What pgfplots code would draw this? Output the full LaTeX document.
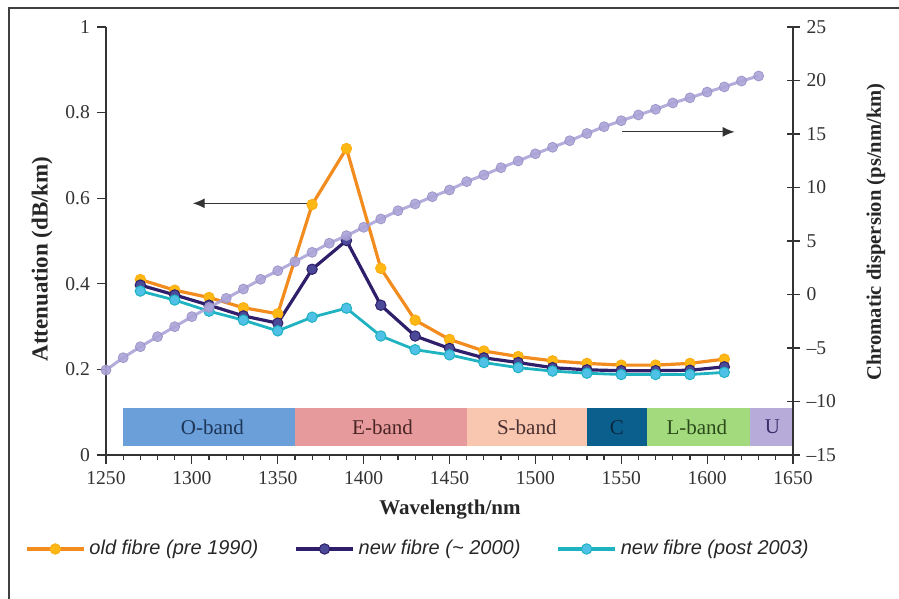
\documentclass[border=0pt]{standalone}
\usepackage{fontspec}
\setmainfont{Liberation Serif}
\newfontfamily\legfont{Liberation Sans}
\usepackage{pgfplots}
\pgfplotsset{compat=1.18}
\usetikzlibrary{arrows.meta}
\definecolor{cold}{HTML}{F28C1E}
\definecolor{coldm}{HTML}{FDB813}
\definecolor{cnew}{HTML}{2F1F6B}
\definecolor{cnewm}{HTML}{4B4A99}
\definecolor{cpost}{HTML}{1FB3C2}
\definecolor{cpostm}{HTML}{4FC1E6}
\definecolor{cdisp}{HTML}{ABA4D8}
\definecolor{cdispe}{HTML}{9A92C6}
\definecolor{bO}{HTML}{6A9FD9}
\definecolor{bE}{HTML}{E79A9C}
\definecolor{bS}{HTML}{F9C6B0}
\definecolor{bC}{HTML}{0B5F8C}
\definecolor{bL}{HTML}{A3DA7D}
\definecolor{bU}{HTML}{B7ACD9}
\definecolor{tO}{HTML}{1D3557}
\definecolor{tE}{HTML}{4A2525}
\definecolor{tS}{HTML}{4A3030}
\definecolor{tC}{HTML}{0A2740}
\definecolor{tL}{HTML}{2B4A1C}
\definecolor{tU}{HTML}{3B2F6B}
\definecolor{axc}{HTML}{333333}
\begin{document}
\begin{tikzpicture}
\useasboundingbox (0,0) rectangle (449.5pt,299.5pt);
\draw[line width=0.6pt, black!75] (4.5pt,0pt) -- (4.5pt,295.5pt) -- (449.5pt,295.5pt);
\begin{axis}[
  at={(53pt,72pt)}, anchor=south west, scale only axis,
  width=343.5pt, height=214pt,
  xmin=1250, xmax=1650, ymin=0, ymax=1,
  axis x line=bottom, axis y line=left,
  axis line style={-, axc, line width=0.75pt},
  every tick/.style={axc, line width=0.6pt},
  tick align=outside, major tick length=4.5pt, minor tick length=2.5pt,
  xtick={1250,1300,...,1650}, minor x tick num=4,
  ytick={0,0.2,...,1}, yticklabels={0,0.2,0.4,0.6,0.8,1},
  /pgf/number format/assume math mode=true,
  /pgf/number format/1000 sep={},
  tick label style={font=\fontsize{9.8}{11}\selectfont, text=axc},
  xlabel={\textbf{Wavelength/nm}},
  xlabel style={at={(axis description cs:0.5007,-0.1285)}, anchor=center, font=\fontsize{10.5}{12}\selectfont, text=black!85},
  ylabel={\textbf{Attenuation (dB/km)}},
  ylabel style={at={(axis description cs:-0.093,0.458)}, anchor=center, font=\fontsize{11.5}{13}\selectfont, text=black!85},
  legend columns=3,
  legend style={at={(axis description cs:-0.127,-0.2196)}, anchor=west, draw=none, fill=none,
    font=\legfont\itshape\fontsize{10}{12}\selectfont, text=black!85,
    /tikz/every even column/.append style={column sep=16pt}},
  legend cell align=left,
  legend image code/.code={\draw[line width=1.7pt, mark repeat=2,mark phase=2] plot coordinates {(0cm,0cm) (0.5cm,0cm) (1cm,0cm)};},
  clip=false,
]
% bands
\addplot[fill=bO, draw=none, forget plot] coordinates {(1260,0.02) (1360,0.02) (1360,0.11) (1260,0.11)} -- cycle;
\addplot[fill=bE, draw=none, forget plot] coordinates {(1360,0.02) (1460,0.02) (1460,0.11) (1360,0.11)} -- cycle;
\addplot[fill=bS, draw=none, forget plot] coordinates {(1460,0.02) (1530,0.02) (1530,0.11) (1460,0.11)} -- cycle;
\addplot[fill=bC, draw=none, forget plot] coordinates {(1530,0.02) (1565,0.02) (1565,0.11) (1530,0.11)} -- cycle;
\addplot[fill=bL, draw=none, forget plot] coordinates {(1565,0.02) (1625,0.02) (1625,0.11) (1565,0.11)} -- cycle;
\addplot[fill=bU, draw=none, forget plot] coordinates {(1625,0.02) (1650,0.02) (1650,0.11) (1625,0.11)} -- cycle;
\node[font=\fontsize{10.5}{12}\selectfont, text=tO] at (axis cs:1312,0.065) {O-band};
\node[font=\fontsize{10.5}{12}\selectfont, text=tE] at (axis cs:1411,0.065) {E-band};
\node[font=\fontsize{10.5}{12}\selectfont, text=tS] at (axis cs:1495,0.065) {S-band};
\node[font=\fontsize{10.5}{12}\selectfont, text=tC] at (axis cs:1547.5,0.065) {C};
\node[font=\fontsize{10.5}{12}\selectfont, text=tL] at (axis cs:1594,0.065) {L-band};
\node[font=\fontsize{10.5}{12}\selectfont, text=tU] at (axis cs:1638,0.065) {U};
% arrow to left axis
\draw[axc, line width=0.6pt, -{Latex[length=6pt,width=5pt]}] (axis cs:1370,0.588) -- (axis cs:1300.5,0.588);
% series
\addplot[cold, line width=1.6pt, mark=*, mark size=2.6pt, mark options={fill=coldm, draw=coldm!80!cold, line width=0.5pt}]
coordinates {(1270,0.410)(1290,0.385)(1310,0.368)(1330,0.344)(1350,0.330)(1370,0.585)(1390,0.716)(1410,0.436)(1430,0.315)(1450,0.270)(1470,0.243)(1490,0.230)(1510,0.220)(1530,0.214)(1550,0.210)(1570,0.210)(1590,0.214)(1610,0.224)};
\addlegendentry{old fibre (pre 1990)}
\addplot[cnew, line width=1.6pt, mark=*, mark size=2.6pt, mark options={fill=cnewm, draw=cnew, line width=0.5pt}]
coordinates {(1270,0.397)(1290,0.374)(1310,0.350)(1330,0.325)(1350,0.308)(1370,0.434)(1390,0.501)(1410,0.350)(1430,0.278)(1450,0.249)(1470,0.227)(1490,0.216)(1510,0.204)(1530,0.199)(1550,0.197)(1570,0.197)(1590,0.198)(1610,0.206)};
\addlegendentry{new fibre (\textasciitilde{} 2000)}
\addplot[cpost, line width=1.4pt, mark=*, mark size=2.6pt, mark options={fill=cpostm, draw=cpost, line width=0.5pt}]
coordinates {(1270,0.383)(1290,0.362)(1310,0.336)(1330,0.315)(1350,0.290)(1370,0.322)(1390,0.343)(1410,0.278)(1430,0.246)(1450,0.234)(1470,0.216)(1490,0.204)(1510,0.196)(1530,0.191)(1550,0.188)(1570,0.188)(1590,0.188)(1610,0.193)};
\addlegendentry{new fibre (post 2003)}
\end{axis}
\begin{axis}[
  at={(53pt,72pt)}, anchor=south west, scale only axis,
  width=343.5pt, height=214pt,
  xmin=1250, xmax=1650, ymin=-15, ymax=25,
  axis x line=none, axis y line=right,
  axis line style={-, axc, line width=0.75pt},
  every tick/.style={axc, line width=0.6pt},
  tick align=center, major tick length=6.5pt,
  ytick={-15,-10,...,25},
  yticklabels={\textendash15,\textendash10,\textendash5,0,5,10,15,20,25},
  tick label style={font=\fontsize{9.8}{11}\selectfont, text=axc},
  ylabel={\textbf{Chromatic dispersion (ps/nm/km)}},
  ylabel style={at={(axis description cs:1.1208,0.521)}, anchor=center, font=\fontsize{10.3}{12}\selectfont, text=black!85},
  clip=false,
]
\draw[axc, line width=0.6pt, -{Latex[length=6pt,width=5pt]}] (axis cs:1550.5,15.2) -- (axis cs:1616,15.2);
\addplot[cdisp, opacity=0.9, line width=1.5pt, mark=*, mark size=2.5pt, mark options={fill=cdisp, draw=cdispe, line width=0.4pt}]
coordinates {(1250,-7.06)(1260,-5.91)(1270,-4.88)(1280,-3.94)(1290,-3.01)(1300,-2.07)(1310,-1.20)(1320,-0.36)(1330,0.51)(1340,1.42)(1350,2.22)(1360,3.07)(1370,3.94)(1380,4.79)(1390,5.50)(1400,6.28)(1410,7.06)(1420,7.83)(1430,8.46)(1440,9.14)(1450,9.77)(1460,10.55)(1470,11.17)(1480,11.85)(1490,12.48)(1500,13.15)(1510,13.76)(1520,14.37)(1530,15.05)(1540,15.68)(1550,16.24)(1560,16.78)(1570,17.31)(1580,17.90)(1590,18.38)(1600,18.92)(1610,19.40)(1620,19.95)(1630,20.42)};
\end{axis}
\end{tikzpicture}
\end{document}
